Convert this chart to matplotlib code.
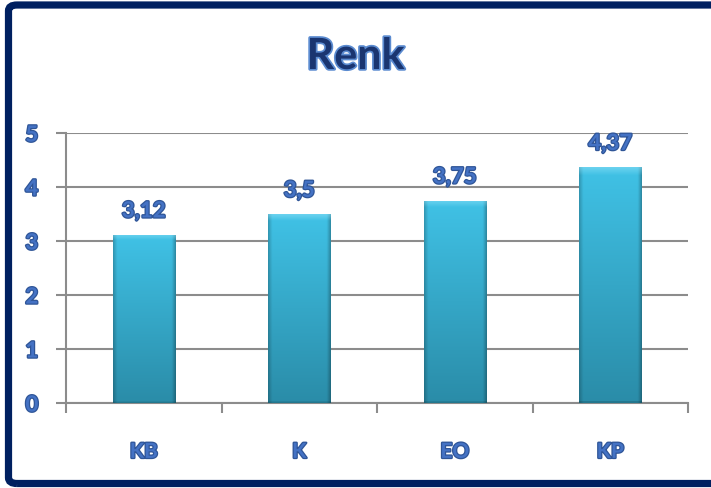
import numpy as np
import matplotlib.pyplot as plt
import matplotlib.patheffects as pe
from matplotlib.patches import FancyBboxPatch

# Data
categories = ["KB", "K", "EO", "KP"]
values = [3.12, 3.5, 3.75, 4.37]
value_labels = ["3,12", "3,5", "3,75", "4,37"]
y_ticks = [0, 1, 2, 3, 4, 5]

navy = "#002060"
label_blue = "#4472C4"
grid_gray = "#8C8C8C"

plt.rcParams["font.family"] = ["Lato", "DejaVu Sans"]

fig = plt.figure(figsize=(7.11, 4.88), dpi=100)
ax = fig.add_axes([66 / 711, 1 - 403 / 488, 622 / 711, 270 / 488])

x = np.arange(len(categories))
bars = ax.bar(x, values, width=0.4, color="#36A9CC", zorder=3, linewidth=0)

# gradient fill for each bar, clipped to the bar outline
top = np.array([0x40, 0xC2, 0xE6]) / 255
bottom = np.array([0x2A, 0x8C, 0xA8]) / 255
ny, nx = 240, 60
t = np.linspace(0, 1, ny)[:, None, None]
grad = top * (1 - t) + bottom * t
edge = np.ones(nx)
edge[:4] = np.linspace(0.80, 0.96, 4)
edge[-4:] = np.linspace(0.96, 0.74, 4)
grad = grad * edge[None, :, None]
# soft highlight along the top edge
hl = np.linspace(0.45, 0.0, 9)[:, None, None]
grad[:9] = grad[:9] * (1 - hl) + np.array([0.62, 0.90, 0.98]) * hl
grad[-2:] *= 0.85
for b in bars:
    x0, w, h = b.get_x(), b.get_width(), b.get_height()
    im = ax.imshow(grad, extent=[x0, x0 + w, 0, h], aspect="auto", zorder=4,
                   interpolation="bilinear")
    im.set_clip_path(b)

ax.set_xlim(-0.5, 3.5)
ax.set_ylim(0, 5)

label_fx = [pe.withStroke(linewidth=1.8, foreground="#2F5597")]

for xi, v, s in zip(x, values, value_labels):
    ax.annotate(s, (xi, v), xytext=(0, 17), textcoords="offset points",
                ha="center", va="center", fontsize=16, fontweight="bold",
                color=label_blue, path_effects=label_fx, zorder=5)

ax.set_yticks(y_ticks)
ax.set_yticklabels([str(v) for v in y_ticks])
ax.set_xticks(x)
ax.set_xticklabels(categories)
ax.set_xticks(np.arange(-0.5, 4, 1), minor=True)

ax.tick_params(axis="y", length=7, width=1.5, color=grid_gray, pad=13,
               labelsize=16, labelcolor=label_blue)
ax.tick_params(axis="x", which="major", length=0, pad=28,
               labelsize=15, labelcolor=label_blue)
ax.tick_params(axis="x", which="minor", length=7, width=1.5, color=grid_gray)
for lab in ax.get_xticklabels() + ax.get_yticklabels():
    lab.set_fontweight("bold")
    lab.set_path_effects(label_fx)

ax.grid(axis="y", color=grid_gray, linewidth=1.5, zorder=1)
ax.set_axisbelow(True)
for side in ["top", "right"]:
    ax.spines[side].set_visible(False)
for side in ["left", "bottom"]:
    ax.spines[side].set_color(grid_gray)
    ax.spines[side].set_linewidth(1.5)

fig.text(0.5, 1 - 56 / 488, "Renk", ha="center", va="center", fontsize=31,
         fontweight="bold", color="#1A3570",
         path_effects=[pe.withStroke(linewidth=2.5, foreground="#5B8BD0")])

# dark frame around the chart
frame = FancyBboxPatch((8.5 / 711, 4.5 / 488), 720 / 711, 478.5 / 488,
                       boxstyle="round,pad=0,rounding_size=0.012",
                       transform=fig.transFigure, fill=False,
                       edgecolor=navy, linewidth=5.2, clip_on=False)
fig.patches.append(frame)

fig.savefig("out.png", dpi=100)
